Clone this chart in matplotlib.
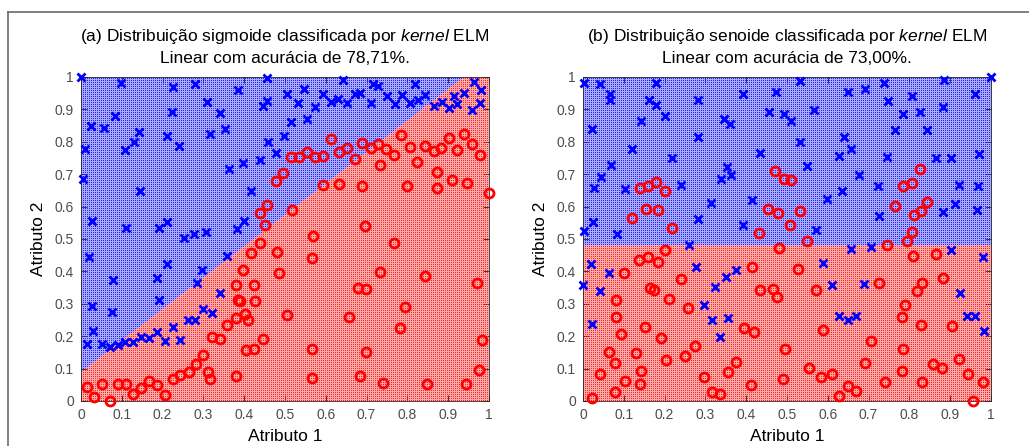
import numpy as np
import matplotlib
matplotlib.use("Agg")
import matplotlib.pyplot as plt
from matplotlib.lines import Line2D

plt.rcParams['font.family'] = ['Liberation Sans', 'DejaVu Sans']
plt.rcParams['mathtext.fontset'] = 'custom'
plt.rcParams['mathtext.rm'] = 'Liberation Sans'
plt.rcParams['mathtext.it'] = 'Liberation Sans:italic'

# ---- dados ----
# (a) sigmoide: classe azul (x) e vermelha (o)
a_azul_x = [0.000, 0.097, 0.024, 0.057, 0.011, 0.004, 0.084, 0.109, 0.131, 0.141, 0.145, 0.027, 0.110,
            0.190, 0.212, 0.225, 0.224, 0.211, 0.240, 0.252, 0.278, 0.280, 0.309, 0.315, 0.306, 0.341,
            0.352, 0.363, 0.386, 0.396, 0.399, 0.382, 0.417, 0.438, 0.445, 0.455, 0.455, 0.458, 0.477,
            0.497, 0.506, 0.514, 0.533, 0.547, 0.553,
            0.573, 0.594, 0.612, 0.641, 0.631, 0.653, 0.671, 0.685, 0.710, 0.715, 0.728, 0.749, 0.769,
            0.786, 0.807, 0.819, 0.825, 0.844, 0.864, 0.885, 0.901, 0.913, 0.921, 0.939, 0.964, 0.980,
            0.978, 0.958,
            0.020, 0.079, 0.028, 0.030, 0.075, 0.014, 0.052, 0.071, 0.091, 0.107, 0.128, 0.148, 0.167,
            0.186, 0.207, 0.225, 0.243, 0.187, 0.191, 0.211, 0.263, 0.280, 0.285, 0.297, 0.300, 0.321,
            0.341, 0.358]
a_azul_y = [1.000, 0.981, 0.848, 0.843, 0.777, 0.685, 0.880, 0.776, 0.798, 0.830, 0.647, 0.557, 0.533,
            0.535, 0.551, 0.969, 0.893, 0.817, 0.786, 0.503, 0.516, 0.979, 0.922, 0.825, 0.522, 0.890,
            0.841, 0.717, 0.961, 0.734, 0.555, 0.531, 0.648, 0.745, 0.912, 0.926, 0.998, 0.799, 0.765,
            0.819, 0.947, 0.861, 0.919, 0.963, 0.869,
            0.906, 0.947, 0.923, 0.990, 0.933, 0.920, 0.947, 0.951, 0.921, 0.979, 0.971, 0.942, 0.918,
            0.944, 0.920, 0.979, 0.928, 0.944, 0.910, 0.923, 0.905, 0.941, 0.918, 0.952, 0.985, 0.961,
            0.920, 0.897,
            0.444, 0.372, 0.293, 0.216, 0.275, 0.175, 0.175, 0.167, 0.172, 0.183, 0.183, 0.198, 0.193,
            0.213, 0.185, 0.229, 0.188, 0.379, 0.311, 0.422, 0.251, 0.249, 0.364, 0.405, 0.283, 0.273,
            0.333, 0.447]
a_verm_x = [0.439, 0.457, 0.450, 0.477, 0.496, 0.514, 0.535, 0.553, 0.517,
            0.612, 0.574, 0.594, 0.633, 0.653, 0.671, 0.689, 0.710, 0.729, 0.748, 0.734, 0.767, 0.785,
            0.806, 0.824, 0.842, 0.864, 0.883, 0.902, 0.921, 0.939, 0.959, 0.978, 0.872, 0.592, 0.633,
            0.689, 0.799, 0.872, 0.910, 0.947, 1.000, 0.569, 0.696, 0.767,
            0.014, 0.032, 0.052, 0.071, 0.091, 0.110, 0.128, 0.148, 0.167, 0.186, 0.207, 0.225, 0.243,
            0.264, 0.282, 0.300, 0.312, 0.315, 0.320, 0.341, 0.358, 0.380, 0.380, 0.380, 0.385, 0.389,
            0.396, 0.401, 0.410, 0.404, 0.423, 0.423, 0.427, 0.416, 0.439, 0.445, 0.481, 0.485, 0.506,
            0.567, 0.734, 0.842, 0.970, 0.680, 0.699, 0.795, 0.656, 0.783, 0.982, 0.567, 0.698, 0.976,
            0.567, 0.684, 0.741, 0.848, 0.943]
a_verm_y = [0.579, 0.604, 0.543, 0.679, 0.704, 0.754, 0.752, 0.769, 0.591,
            0.810, 0.752, 0.757, 0.769, 0.782, 0.746, 0.795, 0.782, 0.794, 0.778, 0.728, 0.759, 0.821,
            0.785, 0.738, 0.788, 0.772, 0.782, 0.813, 0.774, 0.823, 0.793, 0.759, 0.708, 0.667, 0.671,
            0.665, 0.665, 0.658, 0.682, 0.674, 0.643, 0.508, 0.541, 0.487,
            0.042, 0.011, 0.052, 0.001, 0.052, 0.052, 0.022, 0.039, 0.063, 0.049, 0.018, 0.067, 0.080,
            0.089, 0.114, 0.142, 0.088, 0.067, 0.196, 0.190, 0.234, 0.077, 0.257, 0.359, 0.311, 0.309,
            0.405, 0.268, 0.249, 0.157, 0.162, 0.359, 0.308, 0.457, 0.487, 0.190, 0.459, 0.395, 0.265,
            0.442, 0.398, 0.386, 0.365, 0.350, 0.345, 0.290, 0.259, 0.224, 0.188, 0.162, 0.150, 0.095,
            0.072, 0.078, 0.056, 0.051, 0.051]

# (b) senoide
b_azul_x = [0.002, 0.041, 0.065, 0.065, 0.022, 0.026, 0.044, 0.024, 0.002, 0.069, 0.083, 0.102, 0.121,
            0.141, 0.161, 0.179, 0.180, 0.200, 0.218, 0.239, 0.283, 0.283, 0.283, 0.314, 0.338, 0.345,
            0.361, 0.353, 0.363, 0.391, 0.393, 0.414, 0.435, 0.455, 0.474, 0.493,
            1.000, 0.532, 0.650, 0.691, 0.738, 0.886, 0.961, 0.511, 0.566, 0.748, 0.806, 0.785, 0.826,
            0.883, 0.765, 0.844, 0.532, 0.640, 0.656, 0.628, 0.550, 0.746, 0.864, 0.903, 0.971, 0.677,
            0.722, 0.636, 0.597, 0.922, 0.969, 0.912, 0.883, 0.966, 0.726, 0.571,
            0.259, 0.020, 0.063, 0.000, 0.042, 0.022, 0.277, 0.323, 0.350, 0.376, 0.297, 0.316, 0.355,
            0.337,
            0.656, 0.707, 0.903, 0.980, 0.589, 0.610, 0.689, 0.923, 0.628, 0.649, 0.669, 0.942, 0.961,
            0.983]
b_azul_y = [0.982, 0.979, 0.946, 0.930, 0.839, 0.656, 0.690, 0.553, 0.525, 0.728, 0.515, 0.653, 0.777,
            0.865, 0.928, 0.981, 0.914, 0.879, 0.751, 0.667, 0.928, 0.815, 0.562, 0.612, 0.684, 0.869,
            0.856, 0.721, 0.696, 0.949, 0.542, 0.621, 0.766, 0.892, 0.954, 0.885,
            1.000, 0.988, 0.954, 0.962, 0.983, 0.990, 0.947, 0.865, 0.897, 0.926, 0.941, 0.885, 0.892,
            0.906, 0.836, 0.836, 0.798, 0.815, 0.779, 0.757, 0.725, 0.754, 0.749, 0.751, 0.762, 0.699,
            0.665, 0.648, 0.624, 0.667, 0.665, 0.607, 0.583, 0.588, 0.571, 0.528,
            0.483, 0.422, 0.395, 0.357, 0.339, 0.237, 0.413, 0.352, 0.383, 0.403, 0.295, 0.249, 0.257,
            0.196,
            0.470, 0.475, 0.467, 0.444, 0.427, 0.357, 0.360, 0.333, 0.262, 0.249, 0.262, 0.262, 0.262,
            0.216]
b_verm_x = [0.121, 0.139, 0.159, 0.180, 0.200, 0.155, 0.184, 0.219, 0.432, 0.453, 0.478, 0.471, 0.493,
            0.508,
            0.826, 0.511, 0.785, 0.806, 0.765, 0.844, 0.828, 0.812, 0.532, 0.807, 0.550, 0.793,
            0.022, 0.042, 0.063, 0.079, 0.078, 0.082, 0.082, 0.093, 0.101, 0.102, 0.131, 0.141, 0.139,
            0.138, 0.159, 0.163, 0.173, 0.153, 0.184, 0.190, 0.202, 0.204, 0.210, 0.239, 0.251, 0.257,
            0.275, 0.297, 0.316, 0.337, 0.355, 0.376, 0.394, 0.420, 0.414, 0.412, 0.433, 0.466, 0.475,
            0.480, 0.490, 0.496,
            0.746, 0.810, 0.864, 0.528, 0.725, 0.830, 0.883, 0.819, 0.571, 0.789, 0.781, 0.829, 0.904,
            0.589, 0.707, 0.784, 0.922, 0.690, 0.857, 0.879, 0.555, 0.781, 0.583, 0.610, 0.944, 0.740,
            0.832, 0.981, 0.649, 0.669, 0.628, 0.957]
b_verm_y = [0.564, 0.656, 0.664, 0.677, 0.649, 0.593, 0.588, 0.535, 0.517, 0.593, 0.579, 0.711, 0.684,
            0.544,
            0.716, 0.682, 0.665, 0.672, 0.603, 0.613, 0.585, 0.574, 0.585, 0.523, 0.495, 0.495,
            0.010, 0.082, 0.150, 0.118, 0.029, 0.313, 0.259, 0.208, 0.395, 0.063, 0.147, 0.092, 0.052,
            0.436, 0.444, 0.350, 0.342, 0.229, 0.429, 0.193, 0.467, 0.126, 0.316, 0.377, 0.138, 0.287,
            0.169, 0.073, 0.027, 0.022, 0.088, 0.119, 0.224, 0.213, 0.415, 0.049, 0.342, 0.347, 0.321,
            0.473, 0.067, 0.159,
            0.480, 0.449, 0.454, 0.406, 0.365, 0.365, 0.381, 0.339, 0.342, 0.297, 0.259, 0.234, 0.231,
            0.218, 0.186, 0.159, 0.129, 0.118, 0.114, 0.101, 0.101, 0.092, 0.075, 0.082, 0.083, 0.059,
            0.059, 0.059, 0.046, 0.032, 0.016, 0.001]

# fronteiras de decisao (kernel linear): y = c + m*x
a_fronteira = (0.09, 0.97)
b_fronteira = (0.48, 0.0)

titulos = ["(a) Distribuição sigmoide classificada por $\\mathit{kernel}$ ELM\nLinear com acurácia de 78,71%.",
           "(b) Distribuição senoide classificada por $\\mathit{kernel}$ ELM\nLinear com acurácia de 73,00%."]

W, H = 1029, 446
fig = plt.figure(figsize=(W / 100, H / 100), dpi=100)

# moldura da captura
fig.add_artist(Line2D([8 / W, 8 / W], [0, 1 - 12 / H], color='#6a6a6a', lw=1.2))
fig.add_artist(Line2D([8 / W, 1], [1 - 12 / H, 1 - 12 / H], color='#6a6a6a', lw=1.2))

# malha da superficie de decisao
nx, ny = 408, 324
gx, gy = np.meshgrid((np.arange(0, nx, 2) + 0.3) / nx, (np.arange(0, ny, 2) + 0.3) / ny)
gx = gx.ravel()
gy = gy.ravel()
fx, fy = np.meshgrid((np.arange(nx) + 0.5) / nx, (np.arange(ny) + 0.5) / ny)

claro = {True: np.array([172, 172, 255]) / 255.0, False: np.array([255, 172, 172]) / 255.0}

dados = [(a_azul_x, a_azul_y, a_verm_x, a_verm_y, a_fronteira),
         (b_azul_x, b_azul_y, b_verm_x, b_verm_y, b_fronteira)]
lefts = [81 / W, 583 / W]

for i, (bx, by, rx, ry, (c, m)) in enumerate(dados):
    ax = fig.add_axes([lefts[i], 45 / H, 408 / W, 324 / H])
    fundo = fy > c + m * fx
    img = np.where(fundo[..., None], claro[True], claro[False])
    ax.imshow(img, origin='lower', extent=(0, 1, 0, 1), interpolation='nearest',
              aspect='auto', zorder=1)
    azul = gy > c + m * gx
    ax.plot(gx[azul], gy[azul], ',', color='#2020ff', zorder=2)
    ax.plot(gx[~azul], gy[~azul], ',', color='#ff2020', zorder=2)
    ax.plot(bx, by, 'x', color='#0000ff', markersize=6, markeredgewidth=2, clip_on=False, zorder=3)
    ax.plot(rx, ry, 'o', color='#ff0000', markerfacecolor='none', markersize=6.5,
            markeredgewidth=2, clip_on=False, zorder=3)
    ax.set_xlim(0, 1)
    ax.set_ylim(0, 1)
    ticks = np.round(np.arange(0, 1.01, 0.1), 1)
    rotulos = ['0'] + ['%.1f' % t for t in ticks[1:-1]] + ['1']
    ax.set_xticks(ticks)
    ax.set_xticklabels(rotulos)
    ax.set_yticks(ticks)
    ax.set_yticklabels(rotulos)
    ax.tick_params(direction='in', length=4, width=0.6, top=True, right=True,
                   labelsize=10, colors='#262626', labelcolor='#4d4d4d', pad=5)
    for s in ax.spines.values():
        s.set_color('#262626')
        s.set_linewidth(0.6)
    ax.set_xlabel('Atributo 1', fontsize=12.5, labelpad=5)
    ax.set_ylabel('Atributo 2', fontsize=12.5, labelpad=6)
    ax.set_title(titulos[i], fontsize=12.5, pad=10, linespacing=1.4)

fig.savefig('out.png', dpi=100)
